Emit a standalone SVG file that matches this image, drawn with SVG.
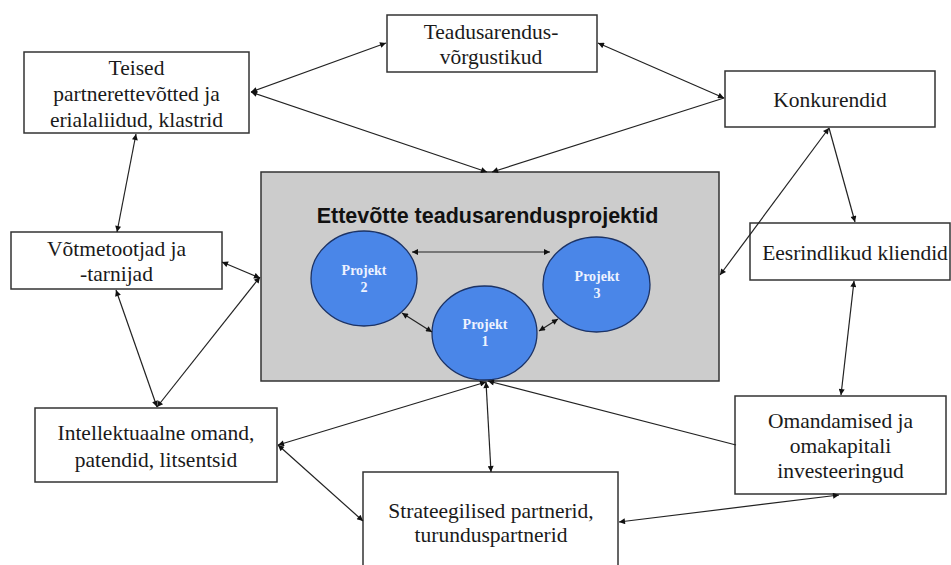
<svg xmlns="http://www.w3.org/2000/svg" width="951" height="565" viewBox="0 0 951 565">
  <style>
    .box { fill: #ffffff; stroke: #333333; stroke-width: 1.5; }
    .lbl { font-family: "Liberation Serif", "Times New Roman", serif; font-size: 21.5px; fill: #1a1a1a; text-anchor: middle; }
    .core { fill: #cccccc; stroke: #333333; stroke-width: 1.5; }
    .title { font-family: "Liberation Sans", Arial, sans-serif; font-weight: bold; font-size: 21.5px; fill: #111111; text-anchor: middle; }
    .proj { fill: #4a86e8; stroke: #1c3366; stroke-width: 1.3; }
    .ptxt { font-family: "Liberation Serif", "Times New Roman", serif; font-weight: bold; font-size: 14px; fill: #eef3ff; text-anchor: middle; }
    .link { stroke: #222222; stroke-width: 1.2; fill: none; }
    .two { marker-start: url(#head); marker-end: url(#head); }
    .one { marker-end: url(#head); }
  </style>
  <defs>
    <marker id="head" viewBox="0 0 10 10" refX="10" refY="5" markerWidth="8" markerHeight="6" orient="auto-start-reverse" markerUnits="userSpaceOnUse">
      <path d="M0,0 L10,5 L0,10 z" fill="#111111"/>
    </marker>
  </defs>

  <rect width="951" height="565" fill="#ffffff"/>

  <!-- central project area -->
  <g id="core">
    <rect class="core" x="261" y="172" width="458" height="209"/>
    <text class="title" x="487.5" y="223">Ettevõtte teadusarendusprojektid</text>
  </g>

  <g id="projekt2">
    <ellipse class="proj" cx="364" cy="278.5" rx="53" ry="47.5"/>
    <text class="ptxt" x="364" y="275">Projekt</text>
    <text class="ptxt" x="364" y="292">2</text>
  </g>
  <g id="projekt3">
    <ellipse class="proj" cx="596.5" cy="284.5" rx="53.5" ry="47.5"/>
    <text class="ptxt" x="597" y="281">Projekt</text>
    <text class="ptxt" x="597" y="298">3</text>
  </g>
  <g id="projekt1">
    <ellipse class="proj" cx="484.5" cy="333" rx="52.5" ry="47"/>
    <text class="ptxt" x="485" y="329">Projekt</text>
    <text class="ptxt" x="485" y="346">1</text>
  </g>

  <!-- surrounding partners -->
  <g id="teised">
    <rect class="box" x="24" y="52" width="225" height="81"/>
    <text class="lbl" x="136.5" y="75">Teised</text>
    <text class="lbl" x="136.5" y="101">partnerettevõtted ja</text>
    <text class="lbl" x="136.5" y="127">erialaliidud, klastrid</text>
  </g>
  <g id="vorgustikud">
    <rect class="box" x="387" y="15" width="210" height="57"/>
    <text class="lbl" x="491" y="39">Teadusarendus-</text>
    <text class="lbl" x="491" y="64">võrgustikud</text>
  </g>
  <g id="konkurendid">
    <rect class="box" x="725" y="71" width="210" height="56"/>
    <text class="lbl" x="830" y="107">Konkurendid</text>
  </g>
  <g id="votmetootjad">
    <rect class="box" x="11" y="232" width="211" height="57"/>
    <text class="lbl" x="116.5" y="256">Võtmetootjad ja</text>
    <text class="lbl" x="116.5" y="281">-tarnijad</text>
  </g>
  <g id="kliendid">
    <rect class="box" x="750" y="223" width="200" height="57"/>
    <text class="lbl" x="855" y="260">Eesrindlikud kliendid</text>
  </g>
  <g id="intellektuaalne">
    <rect class="box" x="35" y="408" width="242" height="74"/>
    <text class="lbl" x="156" y="440">Intellektuaalne omand,</text>
    <text class="lbl" x="156" y="467">patendid, litsentsid</text>
  </g>
  <g id="strateegilised">
    <rect class="box" x="363" y="472" width="255" height="100"/>
    <text class="lbl" x="491" y="518">Strateegilised partnerid,</text>
    <text class="lbl" x="491" y="542">turunduspartnerid</text>
  </g>
  <g id="omandamised">
    <rect class="box" x="735" y="396" width="211" height="98"/>
    <text class="lbl" x="840.5" y="428">Omandamised ja</text>
    <text class="lbl" x="840.5" y="453">omakapitali</text>
    <text class="lbl" x="840.5" y="478">investeeringud</text>
  </g>

  <!-- connectors -->
  <g id="connectors">
    <line class="link two" x1="251" y1="92" x2="386" y2="43"/>
    <line class="link two" x1="251" y1="92" x2="487" y2="172"/>
    <line class="link two" x1="598" y1="43" x2="724" y2="98"/>
    <line class="link one" x1="724" y1="98" x2="492" y2="172"/>
    <line class="link two" x1="829" y1="128" x2="720" y2="275"/>
    <line class="link one" x1="829" y1="128" x2="855" y2="222"/>
    <line class="link two" x1="854" y1="281" x2="841" y2="395"/>
    <line class="link two" x1="136" y1="134" x2="117" y2="232"/>
    <line class="link two" x1="222" y1="262" x2="260" y2="278"/>
    <line class="link two" x1="116" y1="290" x2="157" y2="407"/>
    <line class="link two" x1="157" y1="407" x2="260" y2="277"/>
    <line class="link two" x1="278" y1="445" x2="486" y2="382"/>
    <line class="link two" x1="278" y1="445" x2="363" y2="521"/>
    <line class="link two" x1="486" y1="382" x2="491" y2="472"/>
    <line class="link one" x1="736" y1="445" x2="488" y2="381"/>
    <line class="link two" x1="619" y1="522" x2="839" y2="495"/>
    <line class="link two" x1="412" y1="252" x2="550" y2="252"/>
    <line class="link two" x1="402" y1="313" x2="432" y2="332"/>
    <line class="link two" x1="558" y1="319" x2="539" y2="331"/>
  </g>
</svg>
